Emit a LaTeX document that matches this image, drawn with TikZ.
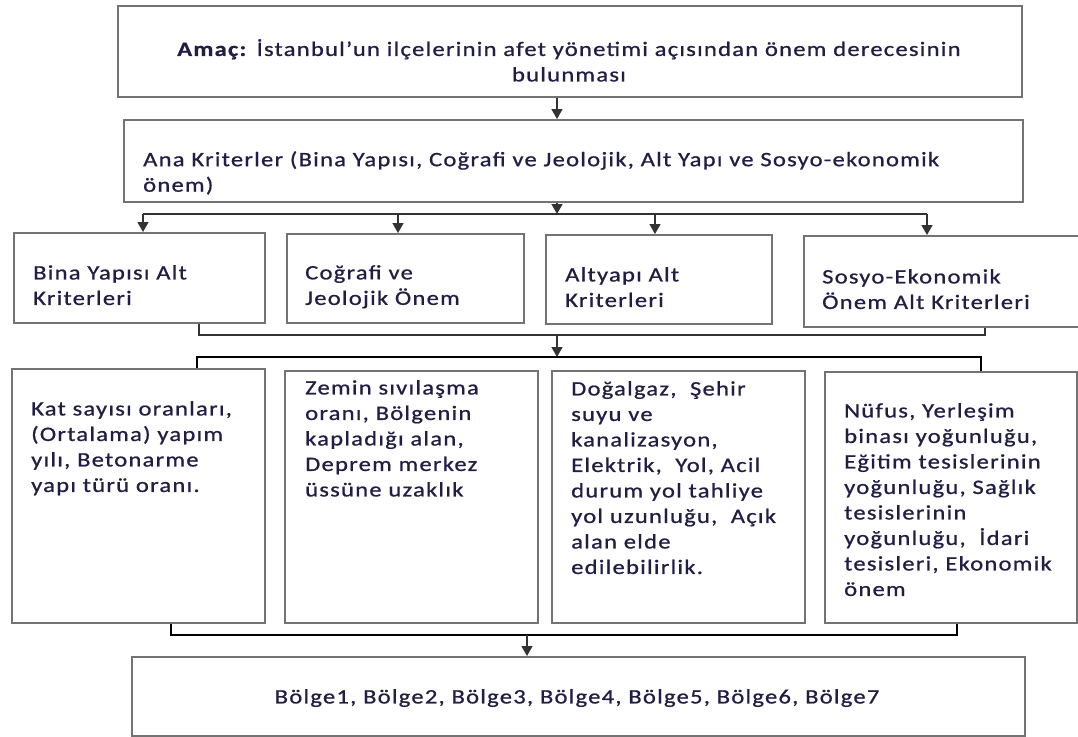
\documentclass[tikz,border=0pt]{standalone}
\usepackage{fontspec}
\setmainfont{Carlito}[LetterSpace=6,FakeStretch=1.2,FakeBold=0.8]
\usetikzlibrary{arrows.meta}
\definecolor{inktext}{HTML}{211E45}

\begin{document}
\begin{tikzpicture}[x=1pt,y=-1pt,>={Triangle[length=10pt,width=11pt]},
   box/.style={draw=black!55,line width=1.6pt,anchor=north west,inner sep=0pt},
   txt/.style={anchor=north west,align=left,inner sep=0pt,text=inktext,
               font=\fontsize{20.5}{25.5}\selectfont},
   link/.style={draw=black!80,line width=1.5pt}]
   \useasboundingbox (0,0) rectangle (1078,736);

   % goal and main criteria
   \node[box,minimum width=904pt,minimum height=91pt] (amac) at (117,5) {};
   \node[box,minimum width=899pt,minimum height=82pt] (ana)  at (123,119) {};
   \node[txt,anchor=north,align=center] (amacT) at (569,39)
        {\textbf{Amaç:} İstanbul’un ilçelerinin afet yönetimi açısından önem derecesinin\\bulunması};
   \node[txt] (anaT) at (143,151)
        {Ana Kriterler (Bina Yapısı, Coğrafi ve Jeolojik, Alt Yapı ve Sosyo-ekonomik\\önem)};

   % sub criteria
   \node[box,minimum width=251pt,minimum height=90pt] (bina) at (13,232) {};
   \node[box,minimum width=237pt,minimum height=89pt] (cog)  at (286,233) {};
   \node[box,minimum width=226pt,minimum height=89pt] (alt)  at (545,234) {};
   \node[box,minimum width=282pt,minimum height=91pt] (sos)  at (803,235) {};
   \node[txt] (binaT) at (33,265)  {Bina Yapısı Alt\\Kriterleri};
   \node[txt] (cogT)  at (305,265) {Coğrafi ve\\Jeolojik Önem};
   \node[txt] (altT)  at (565,267) {Altyapı Alt\\Kriterleri};
   \node[txt] (sosT)  at (822,269) {Sosyo-Ekonomik\\Önem Alt Kriterleri};

   % indicators
   \node[box,minimum width=253pt,minimum height=254pt] (kat) at (11,368) {};
   \node[box,minimum width=253pt,minimum height=252pt] (zem) at (284,370) {};
   \node[box,minimum width=253pt,minimum height=252pt] (dog) at (551,370) {};
   \node[box,minimum width=252pt,minimum height=251pt] (nuf) at (824,371) {};
   \node[txt] (katT) at (31,401)
        {Kat sayısı oranları,\\(Ortalama) yapım\\yılı, Betonarme\\yapı türü oranı.};
   \node[txt] (zemT) at (305,380)
        {Zemin sıvılaşma\\oranı, Bölgenin\\kapladığı alan,\\Deprem merkez\\üssüne uzaklık};
   \node[txt] (dogT) at (571,381)
        {Doğalgaz,\ \ Şehir\\suyu ve\\kanalizasyon,\\Elektrik,\ \ Yol, Acil\\durum yol tahliye\\yol uzunluğu,\ \ Açık\\alan elde\\edilebilirlik.};
   \node[txt] (nufT) at (844,403)
        {Nüfus, Yerleşim\\binası yoğunluğu,\\Eğitim tesislerinin\\yoğunluğu, Sağlık\\tesislerinin\\yoğunluğu,\ \ İdari\\tesisleri, Ekonomik\\önem};

   % result
   \node[box,minimum width=893pt,minimum height=79pt] (bolge) at (131,656) {};
   \node[txt,anchor=north] (bolgeT) at (577,689)
        {Bölge1, Bölge2, Bölge3, Bölge4, Bölge5, Bölge6, Bölge7};

   % connectors
   \coordinate (spine) at (557,0);
   \coordinate (busL) at (143,214);
   \coordinate (busR) at (927,214);
   \draw[link,->] (amac.south -| spine) -- (ana.north -| spine);
   \draw[link,->] (ana.south -| spine) -- (spine |- busL);
   \draw[link] (busL) -- (busR);
   \draw[link,->] (busL) -- (bina.north -| busL);
   \draw[link,->] (398,214) -- (cog.north -| 398,0);
   \draw[link,->] (655,214) -- (alt.north -| 655,0);
   \draw[link,->] (busR) -- (sos.north -| busR);

   \draw[link] (bina.south -| 199,0) -- (199,335) -- (985,335) -- (sos.south -| 985,0);
   \draw[link,->] (spine |- 0,335) -- (spine |- 0,357);
   \draw[link,draw=black,line width=1.8pt] (kat.north -| 197,0) -- (197,357) -- (981,357) -- (nuf.north -| 981,0);

   \draw[link,draw=black] (kat.south -| 171,0) -- (171,635) -- (957,635) -- (nuf.south -| 957,0);
   \draw[link,->] (527,635) -- (bolge.north -| 527,0);
\end{tikzpicture}
\end{document}
